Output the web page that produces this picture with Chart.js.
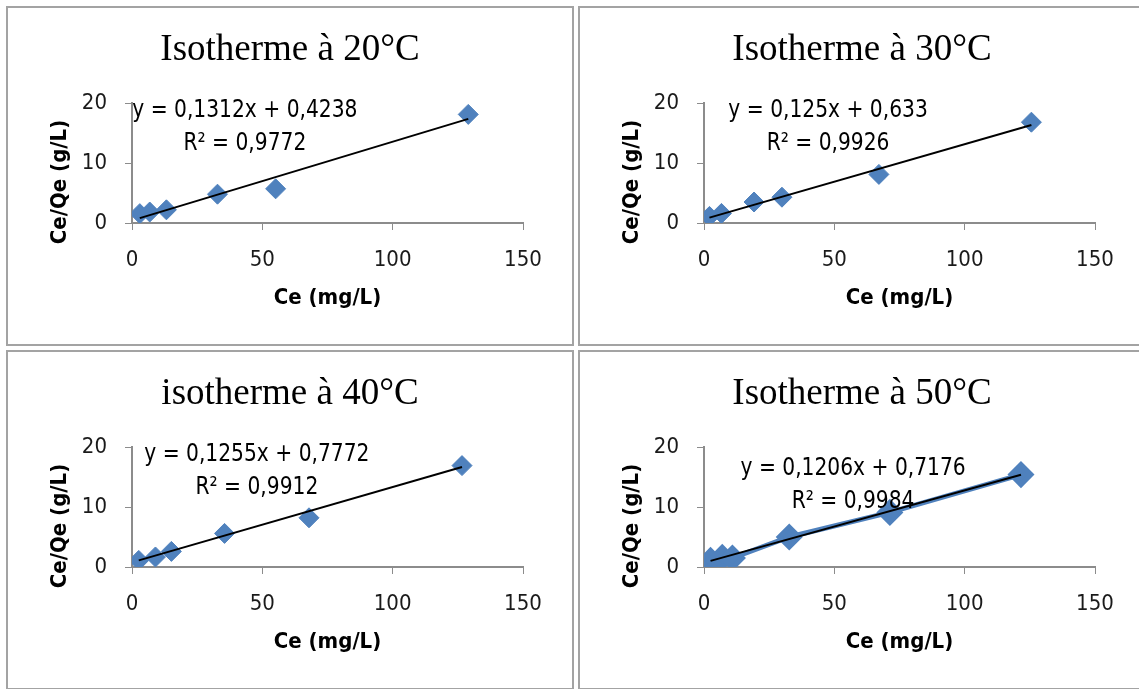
<!DOCTYPE html>
<html>
<head>
<meta charset="utf-8">
<script src="https://cdn.jsdelivr.net/npm/chart.js@4.4.1/dist/chart.umd.min.js"></script>
<style>
  body { margin: 0; background: #fff; width: 1139px; height: 689px; overflow: hidden; position: relative; }
  .panel { position: absolute; border: 2px solid #a3a3a3; width: 564px; height: 336px; }
  .panel canvas { display: block; }
</style>
</head>
<body>
<div class="panel" style="left:6px;top:6px"><canvas id="chart20" width="564" height="336"></canvas></div>
<div class="panel" style="left:578px;top:6px"><canvas id="chart30" width="564" height="336"></canvas></div>
<div class="panel" style="left:6px;top:350px"><canvas id="chart40" width="564" height="336"></canvas></div>
<div class="panel" style="left:578px;top:350px"><canvas id="chart50" width="564" height="336"></canvas></div>
<script>
// Ce (mg/L) et Ce/Qe (g/L)
const ce20 = [3.0, 6.8, 13.2, 32.8, 55.1, 129.0];
const ratio20 = [1.56, 1.83, 2.2, 4.8, 5.7, 18.1];
const ce30 = [2.1, 6.7, 19.2, 29.9, 67.1, 125.6];
const ratio30 = [1.1, 1.6, 3.5, 4.3, 8.1, 16.8];
const ce40 = [2.6, 9.0, 15.1, 35.5, 67.9, 126.6];
const ratio40 = [1.1, 1.67, 2.6, 5.6, 8.2, 16.9];
const ce50 = [2.5, 7.0, 10.9, 32.7, 71.3, 121.6];
const ratio50 = [1.1, 1.6, 1.5, 5.0, 9.1, 15.4];

// courbes de tendance (affichées sur les graphiques)
const slopes = [0.1312, 0.125, 0.1255, 0.1206];
const intercepts = [0.4238, 0.633, 0.7772, 0.7176];
const eqLabels = ['y = 0,1312x + 0,4238', 'y = 0,125x + 0,633', 'y = 0,1255x + 0,7772', 'y = 0,1206x + 0,7176'];
const r2Labels = ['R² = 0,9772', 'R² = 0,9926', 'R² = 0,9912', 'R² = 0,9984'];
const titles = ['Isotherme à 20°C', 'Isotherme à 30°C', 'isotherme à 40°C', 'Isotherme à 50°C'];

const xTicks = [0, 50, 100, 150];
const yTicks = [0, 10, 20];

const BLUE = '#4f81bd';
const AXIS = '#8c8c8c';
const NARROW = '"Liberation Sans Narrow", "Arial Narrow", "DejaVu Sans Condensed", sans-serif';

// titre, titre de l'axe Y et équation
const panelText = {
  id: 'panelText',
  afterDatasetsDraw(chart, args, opts) {
    const { ctx } = chart;
    const x = chart.scales.x;
    const y = chart.scales.y;
    ctx.save();
    ctx.fillStyle = '#000';
    ctx.textAlign = 'center';
    ctx.textBaseline = 'middle';

    ctx.font = '37px "Liberation Serif", "Times New Roman", serif';
    ctx.fillText(opts.title, chart.width / 2, 42);

    ctx.save();
    ctx.font = 'bold 22px ' + NARROW;
    ctx.translate(52, 174);
    ctx.rotate(-Math.PI / 2);
    ctx.fillText('Ce/Qe (g/L)', 0, 0);
    ctx.restore();

    // texte un peu resserré, comme l'Arial Narrow d'origine
    ctx.font = '25px ' + NARROW;
    const ex = x.getPixelForValue(opts.eqX);
    const ey = y.getPixelForValue(opts.eqY);
    ctx.save();
    ctx.translate(ex, ey);
    ctx.scale(0.9, 1);
    ctx.fillText(opts.eq, 0, 0);
    ctx.fillText(opts.r2, 0, 33);
    ctx.restore();
    ctx.restore();
  }
};

function makeChart(id, idx, ce, ratio, eqX, eqY, showLine) {
  const pts = ce.map((v, i) => ({ x: v, y: ratio[i] }));
  const xMin = Math.min(...ce);
  const xMax = Math.max(...ce);
  const trend = [
    { x: xMin, y: slopes[idx] * xMin + intercepts[idx] },
    { x: xMax, y: slopes[idx] * xMax + intercepts[idx] }
  ];

  new Chart(document.getElementById(id), {
    type: 'scatter',
    data: {
      datasets: [
        {
          data: pts,
          showLine: showLine,
          borderColor: BLUE,
          borderWidth: showLine ? 5 : 1,
          backgroundColor: BLUE,
          pointStyle: 'rectRot',
          pointRadius: 10,
          pointBorderColor: BLUE,
          pointBackgroundColor: BLUE,
          order: 2
        },
        {
          type: 'line',
          data: trend,
          borderColor: '#000',
          borderWidth: 2,
          pointRadius: 0,
          fill: false,
          order: 1
        }
      ]
    },
    options: {
      responsive: false,
      animation: false,
      layout: { padding: { top: 95, right: 49, left: 0, bottom: 0 } },
      plugins: {
        legend: { display: false },
        tooltip: { enabled: false },
        panelText: { title: titles[idx], eq: eqLabels[idx], r2: r2Labels[idx], eqX: eqX, eqY: eqY }
      },
      scales: {
        x: {
          type: 'linear',
          min: 0,
          max: 150,
          afterBuildTicks: (s) => { s.ticks = xTicks.map(v => ({ value: v })); },
          afterFit: (s) => { s.height = 121; },
          grid: { drawOnChartArea: false, drawTicks: true, tickLength: 7, color: AXIS },
          border: { color: AXIS, width: 2 },
          ticks: { color: '#1a1a1a', padding: 17, font: { family: NARROW, size: 22 } },
          title: {
            display: true,
            text: 'Ce (mg/L)',
            color: '#000',
            font: { family: NARROW, size: 22, weight: 'bold' },
            padding: { top: 0, bottom: 33 }
          }
        },
        y: {
          type: 'linear',
          min: 0,
          max: 20,
          afterBuildTicks: (s) => { s.ticks = yTicks.map(v => ({ value: v })); },
          afterFit: (s) => { s.width = 124; },
          grid: { drawOnChartArea: false, drawTicks: true, tickLength: 7, color: AXIS },
          border: { color: AXIS, width: 2 },
          ticks: { color: '#1a1a1a', padding: 18, font: { family: NARROW, size: 22 } }
        }
      }
    },
    plugins: [panelText]
  });
}

makeChart('chart20', 0, ce20, ratio20, 43.3, 18.8, false);
makeChart('chart30', 1, ce30, ratio30, 47.6, 18.8, false);
makeChart('chart40', 2, ce40, ratio40, 47.9, 18.7, false);
makeChart('chart50', 3, ce50, ratio50, 57.2, 16.5, true);
</script>
</body>
</html>
